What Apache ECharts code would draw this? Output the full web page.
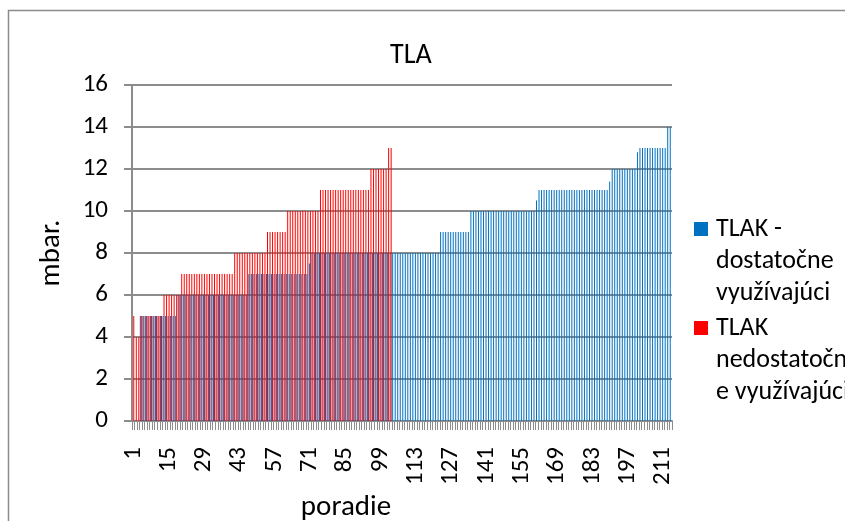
<!DOCTYPE html>
<html>
<head>
<meta charset="utf-8">
<script src="https://cdn.jsdelivr.net/npm/echarts@6/dist/echarts.min.js"></script>
<style>
  html, body { margin: 0; padding: 0; background: #fff; }
  #chart { width: 845px; height: 521px; }
</style>
</head>
<body>
<div id="chart"></div>
<script>
// poradie (1..214)
const categoryCount = 214;
const categories = Array.from({ length: categoryCount }, (_, i) => String(i + 1));

// TLAK - dostatočne využívajúci (214 hodnôt)
const dostatocne = [
  null, null, null,
  5, 5, 5, 5, 5, 5, 5, 5, 5, 5,
  5, 5, 5, 5, 5,
  6, 6, 6, 6, 6, 6, 6, 6, 6, 6,
  6, 6, 6, 6, 6, 6, 6, 6, 6, 6,
  6, 6, 6, 6, 6, 6, 6, 6,
  7, 7, 7, 7, 7, 7, 7, 7, 7, 7,
  7, 7, 7, 7, 7, 7, 7, 7, 7, 7,
  7, 7, 7, 7,
  7.5,
  8, 8, 8, 8, 8, 8, 8, 8, 8, 8,
  8, 8, 8, 8, 8, 8, 8, 8, 8, 8,
  8, 8, 8, 8, 8, 8, 8, 8, 8, 8,
  8, 8, 8, 8, 8, 8, 8, 8, 8, 8,
  8, 8, 8, 8, 8, 8, 8, 8, 8, 8,
  8,
  9, 9, 9, 9, 9, 9, 9, 9, 9, 9,
  9, 9,
  10, 10, 10, 10, 10, 10, 10, 10, 10, 10,
  10, 10, 10, 10, 10, 10, 10, 10, 10, 10,
  10, 10, 10, 10, 10, 10,
  10.5,
  11, 11, 11, 11, 11, 11, 11, 11, 11, 11,
  11, 11, 11, 11, 11, 11, 11, 11, 11, 11,
  11, 11, 11, 11, 11, 11, 11, 11,
  11.4,
  12, 12, 12, 12, 12, 12, 12, 12, 12, 12,
  12.8,
  13, 13, 13, 13, 13, 13, 13, 13, 13, 13,
  13,
  14, 14
];

// TLAK nedostatočne využívajúci (103 hodnôt)
const nedostatocne = [
  5, 4, 4,
  5, 5, 5, 5, 5, 5, 5, 5, 5,
  6, 6, 6, 6, 6, 6, 6,
  7, 7, 7, 7, 7, 7, 7, 7, 7, 7,
  7, 7, 7, 7, 7, 7, 7, 7, 7, 7,
  7,
  8, 8, 8, 8, 8, 8, 8, 8, 8, 8,
  8, 8, 8,
  9, 9, 9, 9, 9, 9, 9, 9,
  10, 10, 10, 10, 10, 10, 10, 10, 10, 10,
  10, 10, 10,
  11, 11, 11, 11, 11, 11, 11, 11, 11, 11,
  11, 11, 11, 11, 11, 11, 11, 11, 11, 11,
  12, 12, 12, 12, 12, 12, 12,
  13, 13
];

const yTicks = { min: 0, max: 16, interval: 2 };

const FONT = 'Carlito, Lato, "Noto Sans", sans-serif';
const GRAY = '#8c8c8c';

const chart = echarts.init(document.getElementById('chart'));

const option = {
  animation: false,
  backgroundColor: '#fff',
  textStyle: { fontFamily: FONT, color: '#000' },
  title: {
    text: 'TLA',
    left: 385,
    top: 37,
    textStyle: { fontFamily: FONT, fontSize: 28, fontWeight: 'normal', color: '#000' }
  },
  graphic: [
    {
      type: 'rect',
      shape: { x: 8.5, y: 10.5, width: 900, height: 600 },
      style: { fill: 'none', stroke: GRAY, lineWidth: 1.5 },
      silent: true
    }
  ],
  legend: {
    orient: 'vertical',
    left: 689,
    top: 208,
    itemWidth: 14,
    itemHeight: 78,
    itemGap: 3,
    icon: 'path://M0,0h10v10h-10zM0,55.7h0.01v0.01h-0.01z',
    formatter: function (name) {
      if (name === 'TLAK - dostatočne využívajúci') return 'TLAK -\ndostatočne\nvyužívajúci';
      return 'TLAK\nnedostatočn\ne využívajúci';
    },
    textStyle: { fontFamily: FONT, fontSize: 26, lineHeight: 32, color: '#000', padding: [0, 0, 0, 3] },
    data: ['TLAK - dostatočne využívajúci', 'TLAK nedostatočne využívajúci']
  },
  grid: {
    left: 132,
    right: 173,
    top: 85,
    bottom: 100,
    outerBoundsMode: 'none'
  },
  xAxis: {
    type: 'category',
    data: categories,
    name: 'poradie',
    nameLocation: 'middle',
    nameGap: 70,
    nameTextStyle: { fontFamily: FONT, fontSize: 29, color: '#000', padding: [0, 112, 0, 0] },
    axisLine: { lineStyle: { color: GRAY, width: 2 } },
    axisTick: { show: true, interval: 0, length: 9, lineStyle: { color: GRAY, width: 1 } },
    axisLabel: {
      interval: 13,
      rotate: 90,
      margin: 26,
      fontFamily: FONT,
      fontSize: 25,
      color: '#000'
    }
  },
  yAxis: {
    type: 'value',
    min: yTicks.min,
    max: yTicks.max,
    interval: yTicks.interval,
    name: 'mbar.',
    nameLocation: 'middle',
    nameGap: 66,
    nameTextStyle: { fontFamily: FONT, fontSize: 29, color: '#000' },
    axisLine: { show: true, lineStyle: { color: GRAY, width: 2 } },
    axisTick: { show: true, length: 8, lineStyle: { color: GRAY, width: 2 } },
    axisLabel: { margin: 24, fontFamily: FONT, fontSize: 25, color: '#000' },
    splitLine: { show: true, lineStyle: { color: GRAY, width: 2 } }
  },
  series: [
    {
      name: 'TLAK - dostatočne využívajúci',
      type: 'bar',
      data: dostatocne,
      barGap: '0%',
      barCategoryGap: '43%',
      itemStyle: { color: '#0070C0' }
    },
    {
      name: 'TLAK nedostatočne využívajúci',
      type: 'bar',
      data: nedostatocne,
      itemStyle: { color: '#FF0000' }
    }
  ]
};

chart.setOption(option);
</script>
</body>
</html>
